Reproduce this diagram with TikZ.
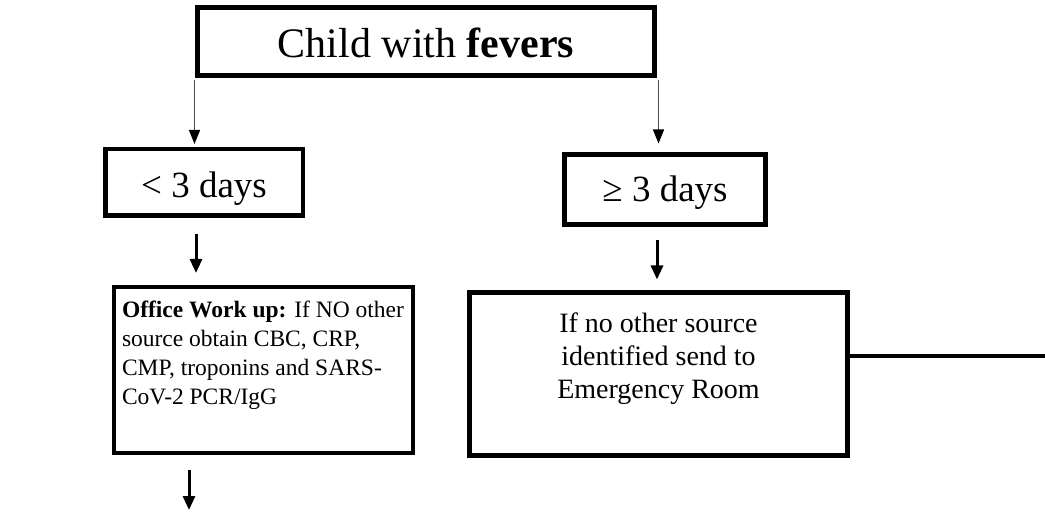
\documentclass[tikz,border=0pt]{standalone}
\usepackage{fontspec}
\setmainfont{Liberation Serif}
\usetikzlibrary{arrows.meta}
\begin{document}
\begin{tikzpicture}[x=1pt,y=-1pt,
  boxnode/.style={draw, rectangle, inner sep=0pt},
  thinarrow/.style={-{Triangle[width=11pt,length=14pt,black]}, line width=1.3pt, draw=black!70},
  thickarrow/.style={-{Triangle[width=12pt,length=14pt]}, line width=3pt}]
\useasboundingbox (0,0) rectangle (1045,513);

\node[boxnode, line width=5pt, minimum width=457pt, minimum height=68pt,
      font=\fontsize{42}{48}\selectfont, text height=33pt, text depth=0pt] (top) at (426,41.5)
  {Child with \textbf{fevers}};

\node[boxnode, line width=4.5pt, minimum width=197.5pt, minimum height=66.5pt,
      font=\fontsize{37}{42}\selectfont, text height=30pt, text depth=0pt] (lt) at (204,182.5)
  {< 3 days};

\node[boxnode, line width=5pt, minimum width=201pt, minimum height=70pt,
      font=\fontsize{37}{42}\selectfont, text height=25pt, text depth=0pt] (ge) at (665,189.5)
  {≥ 3 days};

\node[boxnode, line width=4pt, minimum width=299pt, minimum height=166pt] (office) at (263.5,370)
  {\parbox[c][139pt][t]{283pt}{\fontsize{23.5}{29}\selectfont\raggedright
   \textbf{Office Work up:} If NO other\\source obtain CBC, CRP,\\CMP, troponins and SARS-\\CoV-2 PCR/IgG}};

\node[boxnode, line width=5pt, minimum width=378pt, minimum height=163pt] (er) at (658.5,374)
  {\parbox[c][122pt][t]{360pt}{\fontsize{28}{33}\selectfont\centering
   If no other source\\identified send to\\Emergency Room}};

\coordinate (endbottom) at (189,510);
\coordinate (endright) at (1045,356);

\draw[thinarrow, shorten <=2.5pt, shorten >=3pt] ([xshift=-0.5pt]top.south west) -- ([xshift=-0.5pt]top.south west |- lt.north);
\draw[thinarrow, shorten <=2.5pt, shorten >=8.5pt] ([xshift=1.5pt]top.south east) -- ([xshift=1.5pt]top.south east |- ge.north);

\draw[thickarrow, shorten <=16pt, shorten >=12pt] ([xshift=-8pt]lt.south) -- ([xshift=-8pt]lt.south |- office.north);
\draw[thickarrow, shorten <=13.5pt, shorten >=10.5pt] ([xshift=-8pt]ge.south) -- ([xshift=-8pt]ge.south |- er.north);
\draw[thickarrow, shorten <=15pt] (office.south -| endbottom) -- (endbottom);

\draw[line width=4pt] ([yshift=18pt]er.east) -- (endright);
\end{tikzpicture}
\end{document}
